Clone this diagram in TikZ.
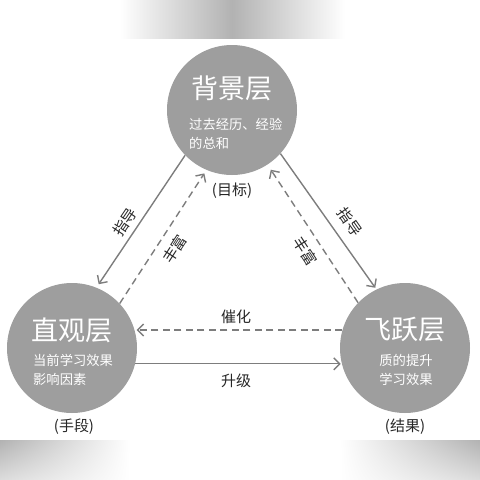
\documentclass[tikz,border=0pt]{standalone}
\usepackage{fontspec}
\setmainfont{Noto Sans CJK SC}
\usetikzlibrary{arrows.meta,shadings}
\definecolor{layergray}{RGB}{158,158,158}
\definecolor{linegray}{RGB}{125,125,125}
\definecolor{bandgray}{RGB}{178,178,178}
\tikzset{
  layer/.style={circle,fill=layergray,draw=none,minimum size=130pt,inner sep=0pt},
  title/.style={text=white,font=\fontsize{27}{30}\selectfont},
  body/.style={text=white,font=\fontsize{13.3}{19}\selectfont,inner sep=0pt},
  tag/.style={text=black!85,font=\fontsize{15}{17}\selectfont,inner sep=0pt},
  guide/.style={draw=linegray,line width=1.4pt,-{Straight Barb[length=6pt,width=12pt]}},
  enrich/.style={guide,dash pattern={on 7pt off 4.5pt}},
}
\begin{document}
\begin{tikzpicture}[x=1pt,y=1pt,yscale=-1]
\useasboundingbox (0,0) rectangle (480,480);

%Shape: Band top
\shade[left color=white,right color=bandgray] (120,0) rectangle (232,38);
\shade[left color=bandgray,right color=white] (232,0) rectangle (345,38);
%Shape: Band bottom
\shade[upper left=bandgray,upper right=white,lower left=white!55!bandgray,lower right=white] (0,440) rectangle (130,480);
\shade[upper left=white,upper right=bandgray,lower left=white,lower right=white!55!bandgray] (340,440) rectangle (480,480);

%Shape: Circle
\node[layer] (bg) at (232,110) {};
\node[layer] (zg) at (72,348) {};
\node[layer] (fy) at (405,348) {};

% Text Node
\node[title] (bgtitle) at (232,88) {背景层};
\node[body,align=left,anchor=west] (bgtext) at (189,134) {过去经历、经验\\的总和};
\node[title] (zgtitle) at (72,330) {直观层};
\node[body,align=left,anchor=west] (zgtext) at (33,370) {当前学习效果\\影响因素};
\node[title] (fytitle) at (405,330) {飞跃层};
\node[body,align=center] (fytext) at (406,370) {质的提升\\学习效果};

% Text Node
\node[tag] (bgtag) at (232,191) {(目标)};
\node[tag] (zgtag) at (74,427) {(手段)};
\node[tag] (fytag) at (405,427) {(结果)};

%Straight Lines
\draw[guide,shorten >=4pt] (bg.224) -- (zg.68);
\draw[enrich,shorten >=4pt] (zg.43) -- (bg.247);
\draw[guide,shorten >=2pt] (bg.318) -- (fy.116);
\draw[enrich,shorten >=6pt] (fy.136) -- (bg.303);
\draw[enrich,shorten >=2pt] (fy.164) -- (zg.16);
\draw[guide,shorten >=1pt] (zg.-14) -- (fy.194);

% Text Node
\node[tag,rotate=56] (lguide) at (125,222) {指导};
\node[tag,rotate=57] (lenrich) at (175,249) {丰富};
\node[tag,rotate=-55] (rguide) at (350,222) {指导};
\node[tag,rotate=-57] (renrich) at (305,251) {丰富};
\node[tag] (catalyse) at (236,317) {催化};
\node[tag] (upgrade) at (236,381) {升级};

\end{tikzpicture}
\end{document}
